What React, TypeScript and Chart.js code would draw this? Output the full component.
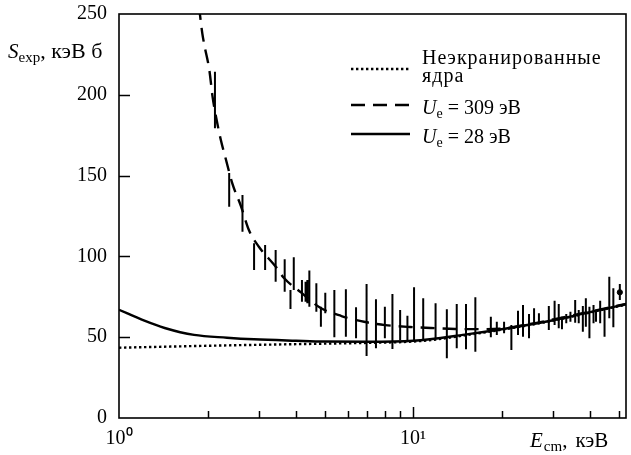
import { useEffect, useRef } from 'react';
import { Chart, registerables } from 'chart.js';

Chart.register(...registerables);

const FONT = '"Liberation Serif", "Times New Roman", serif';

// Axis settings
const X_MIN = 1;
const X_MAX = 53;
const Y_MIN = 0;
const Y_MAX = 250;
const Y_STEP = 50;
const X_MAJOR_LABELS: Record<number, string> = { 1: '10⁰', 10: '10¹' };

// Unscreened nuclei (dotted)
const E_BARE = [1, 1.5, 2, 3, 4, 5, 7, 10, 12, 15, 20, 30, 40, 53];
const S_BARE = [43.5, 44.2, 44.7, 45.3, 45.7, 46.0, 46.5, 47.3, 48.6, 51.2, 54.6, 60.3, 65.3, 70.2];

// Ue = 28 eV (solid)
const E_U28 = [1, 1.22, 1.43, 1.8, 2.33, 2.88, 4, 5, 7, 10, 15, 20, 30, 40, 53];
const S_U28 = [67, 60.2, 55.7, 51.4, 49.7, 48.7, 47.8, 47.3, 47.2, 47.8, 51.6, 54.9, 60.5, 65.5, 70.4];

// Ue = 309 eV (dashed)
const E_U309 = [1.87, 1.92, 1.95, 2.03, 2.08, 2.14, 2.22, 2.31, 2.43, 2.6, 2.77, 2.99, 3.42, 3.64, 4.18, 4.85, 5.71, 6.88, 8.04, 9.77, 11.5, 13.9, 16.6, 19.7, 25, 30, 40, 53];
const S_U309 = [255, 238, 231, 215, 199, 186, 172, 160, 145, 131, 116, 106, 93.4, 86.6, 77.4, 68.1, 63.1, 59.4, 57.5, 56.3, 55.7, 55.1, 55.0, 55.2, 58.2, 61.0, 65.8, 70.6];

// Experimental points: energy, lower and upper ends of the error bars
const BAR_E = [2.12, 2.37, 2.63, 2.88, 3.14, 3.41, 3.66, 3.83, 3.93, 4.19, 4.31, 4.37, 4.44, 4.69, 4.86, 5.03, 5.4, 5.91, 6.4, 6.95, 7.48, 8.02, 8.51, 9.04, 9.57, 10.08, 10.83, 11.93, 13.03, 14.08, 15.14, 16.29, 18.39, 19.27, 20.4, 21.6, 22.75, 23.66, 24.8, 25.8, 26.8, 28.96, 30.3, 31.3, 32.1, 33.2, 34.3, 35.6, 36.6, 37.8, 38.7, 39.8, 41.1, 41.9, 43.3, 44.8, 46.5, 48, 50.5];
const BAR_HI = [214.3, 151.6, 138, 108.1, 107, 104, 98.2, 79.2, 99.4, 85.4, 84.3, 85.4, 91.2, 83.4, 68.9, 77.5, 79.2, 79.6, 68.5, 82.9, 73.5, 68.9, 76.7, 66.8, 63.3, 80.9, 74.1, 71, 67.3, 70.5, 70.5, 74.7, 62.7, 59.6, 59.6, 57.5, 66.4, 69.9, 64.4, 67.9, 64.8, 69.3, 72.6, 70.5, 62.7, 64.4, 65.8, 73, 66.8, 69.3, 74.1, 68.9, 69.9, 65.8, 72.6, 67.9, 87.4, 80.3, 82.9];
const BAR_LO = [179.3, 130.8, 115.3, 91.6, 91.6, 84.3, 78.2, 67.4, 79.2, 72, 72, 71, 68.9, 65.8, 56.5, 64.8, 49.9, 50.3, 49.3, 38.4, 43.1, 49.3, 42.7, 48.3, 48.3, 48.3, 48.3, 48.7, 36.9, 43.1, 42.5, 41, 49.9, 51.4, 52.4, 42.1, 51.4, 50.3, 49.3, 57.5, 58.6, 54.5, 57.5, 55.5, 54.9, 58.6, 59.6, 59, 58.6, 53.4, 56.5, 49.3, 58.6, 59.6, 58.6, 50.3, 61.7, 56.1, 73];

// Point with a visible central marker
const MARK_E = [50.5];
const MARK_S = [77.8];

const LEGEND_BARE = ['Неэкранированные', 'ядра'];
const LEGEND_U309 = { base: 'U', sub: 'e', rest: ' = 309 эВ' };
const LEGEND_U28 = { base: 'U', sub: 'e', rest: ' = 28 эВ' };

type Part = { text: string; font: string; dy?: number; gapBefore?: number };

function drawParts(ctx: CanvasRenderingContext2D, x: number, y: number, parts: Part[]) {
  let cx = x;
  for (const p of parts) {
    cx += p.gapBefore || 0;
    ctx.font = p.font;
    ctx.fillText(p.text, cx, y + (p.dy || 0));
    cx += ctx.measureText(p.text).width;
  }
  return cx;
}

const decorPlugin = {
  id: 'decor',
  afterDraw(chart: any) {
    const { ctx, chartArea: a, scales } = chart;
    const xs = scales.x;
    const ys = scales.y;
    ctx.save();
    ctx.strokeStyle = '#000';
    ctx.fillStyle = '#000';
    ctx.lineWidth = 1.6;
    ctx.strokeRect(a.left, a.top, a.right - a.left, a.bottom - a.top);

    // inward tick marks, x axis
    ctx.lineWidth = 1.5;
    xs.ticks.forEach((t: any) => {
      const v = t.value;
      if (v <= xs.min || v >= xs.max) return;
      const exp = Math.floor(Math.log10(v) + 1e-9);
      const sig = v / Math.pow(10, exp);
      if (Math.abs(sig - Math.round(sig)) > 1e-6) return;
      const major = Math.abs(sig - 1) < 1e-6;
      const px = Math.round(xs.getPixelForValue(v)) + 0.5;
      ctx.beginPath();
      ctx.moveTo(px, a.bottom);
      ctx.lineTo(px, a.bottom - (major ? 11 : 7));
      ctx.stroke();
    });
    // inward tick marks, y axis
    ys.ticks.forEach((t: any) => {
      const v = t.value;
      if (v <= ys.min || v >= ys.max) return;
      const py = Math.round(ys.getPixelForValue(v)) + 0.5;
      ctx.beginPath();
      ctx.moveTo(a.left, py);
      ctx.lineTo(a.left + 11, py);
      ctx.stroke();
    });

    // axis titles
    ctx.textAlign = 'left';
    ctx.textBaseline = 'alphabetic';
    drawParts(ctx, 8, 58, [
      { text: 'S', font: `italic 21px ${FONT}` },
      { text: 'exp', font: `15px ${FONT}`, dy: 4 },
      { text: ', кэВ б', font: `22px ${FONT}` },
    ]);
    drawParts(ctx, 530, 447, [
      { text: 'E', font: `italic 21px ${FONT}` },
      { text: 'cm', font: `15px ${FONT}`, dy: 4, gapBefore: 1 },
      { text: ',', font: `21px ${FONT}` },
      { text: 'кэВ', font: `21px ${FONT}`, gapBefore: 8 },
    ]);

    // legend
    const ds = chart.data.datasets;
    const lx0 = 351;
    const lx1 = 410;
    const tx = 422;
    const rows = [
      { y: 69, d: ds[0] },
      { y: 105, d: ds[2] },
      { y: 134, d: ds[1] },
    ];
    rows.forEach((r) => {
      ctx.save();
      ctx.strokeStyle = r.d.borderColor;
      ctx.lineWidth = r.d.borderWidth;
      ctx.setLineDash(r.d.borderDash || []);
      ctx.beginPath();
      ctx.moveTo(lx0, r.y);
      ctx.lineTo(lx1, r.y);
      ctx.stroke();
      ctx.restore();
    });
    ctx.save();
    ctx.font = `20px ${FONT}`;
    if ('letterSpacing' in ctx) (ctx as any).letterSpacing = '1px';
    LEGEND_BARE.forEach((ln, j) => ctx.fillText(ln, tx, 64 + j * 18));
    ctx.restore();
    [LEGEND_U309, LEGEND_U28].forEach((lab, i) => {
      drawParts(ctx, tx, rows[i + 1].y + 9, [
        { text: lab.base, font: `italic 20px ${FONT}` },
        { text: lab.sub, font: `14px ${FONT}`, dy: 4 },
        { text: lab.rest, font: `20px ${FONT}` },
      ]);
    });
    ctx.restore();
  },
};

export default function App() {
  const ref = useRef<HTMLCanvasElement | null>(null);
  useEffect(() => {
    if (!ref.current) return;
    const pts = (xs: number[], ys: number[]) => xs.map((x, i) => ({ x, y: ys[i] }));
    const errData: any[] = [];
    BAR_E.forEach((e, i) => {
      errData.push({ x: e, y: BAR_LO[i] }, { x: e, y: BAR_HI[i] }, { x: e, y: null });
    });
    const chart = new Chart(ref.current, {
      type: 'line',
      data: {
        datasets: [
          {
            label: 'Неэкранированные ядра',
            data: pts(E_BARE, S_BARE),
            borderColor: '#000',
            borderWidth: 2.4,
            borderDash: [2.4, 2.6],
            pointRadius: 0,
            cubicInterpolationMode: 'monotone',
            fill: false,
          },
          {
            label: 'Ue = 28 эВ',
            data: pts(E_U28, S_U28),
            borderColor: '#000',
            borderWidth: 2.4,
            pointRadius: 0,
            cubicInterpolationMode: 'monotone',
            fill: false,
          },
          {
            label: 'Ue = 309 эВ',
            data: pts(E_U309, S_U309),
            borderColor: '#000',
            borderWidth: 2.4,
            borderDash: [14, 8],
            pointRadius: 0,
            cubicInterpolationMode: 'monotone',
            fill: false,
          },
          {
            label: 'errors',
            data: errData,
            borderColor: '#000',
            borderWidth: 2,
            pointRadius: 0,
            spanGaps: false,
            fill: false,
          },
          {
            label: 'marker',
            data: pts(MARK_E, MARK_S),
            showLine: false,
            pointRadius: 2.6,
            pointBackgroundColor: '#000',
            pointBorderColor: '#000',
            borderColor: '#000',
          },
        ],
      },
      options: {
        animation: false,
        responsive: true,
        maintainAspectRatio: false,
        layout: { padding: { top: 14, right: 1, left: 0, bottom: 0 } },
        plugins: { legend: { display: false }, tooltip: { enabled: false } },
        scales: {
          x: {
            type: 'logarithmic',
            min: X_MIN,
            max: X_MAX,
            grid: { display: false, drawTicks: false },
            border: { display: false },
            ticks: {
              autoSkip: false,
              maxRotation: 0,
              padding: 9,
              color: '#000',
              font: { family: FONT, size: 20 },
              callback: (v: any) => X_MAJOR_LABELS[Number(v)] ?? '',
            },
            afterFit: (s: any) => {
              s.height = 37;
              s.paddingLeft = 0;
              s.paddingRight = 0;
            },
          },
          y: {
            type: 'linear',
            min: Y_MIN,
            max: Y_MAX,
            grid: { display: false, drawTicks: false },
            border: { display: false },
            ticks: {
              stepSize: Y_STEP,
              padding: 12,
              color: '#000',
              font: { family: FONT, size: 20 },
            },
            afterFit: (s: any) => {
              s.width = 119;
              s.paddingTop = 0;
              s.paddingBottom = 0;
            },
          },
        },
      },
      plugins: [decorPlugin],
    });
    return () => chart.destroy();
  }, []);
  return (
    <div style={{ position: 'absolute', left: 0, top: 0, width: 631, height: 455, background: '#fff' }}>
      <canvas ref={ref} />
    </div>
  );
}
